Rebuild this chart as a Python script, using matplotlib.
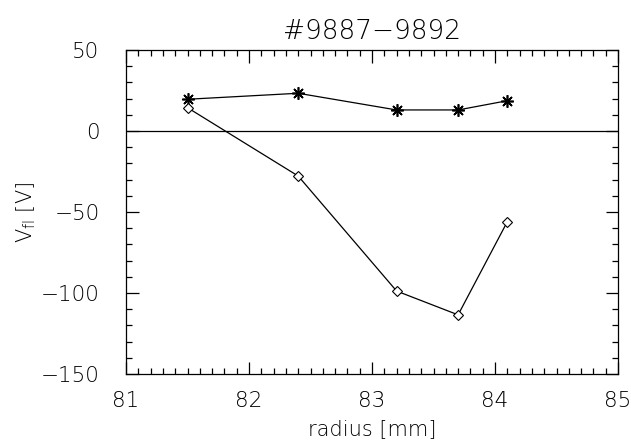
import matplotlib
matplotlib.use("Agg")
import matplotlib.pyplot as plt
from matplotlib.ticker import MultipleLocator

radius = [81.5, 82.4, 83.2, 83.7, 84.1]
vfl_star = [19.6, 23.3, 13.0, 13.0, 18.7]
vfl_diamond = [14.4, -27.8, -98.8, -113.5, -56.0]

plt.rcParams['font.family'] = ['DejaVu Sans']
plt.rcParams['font.weight'] = 'light'
plt.rcParams['axes.titleweight'] = 'light'
plt.rcParams['axes.labelweight'] = 'light'
plt.rcParams['mathtext.default'] = 'regular'
fig = plt.figure(figsize=(6.31, 4.45), dpi=100)
ax = fig.add_axes([0.1997, 0.1596, 0.7797, 0.728])

ax.plot(radius, vfl_star, color='black', lw=0.9, marker=(8, 2, 0), ms=9, mew=1.2)
ax.plot(radius, vfl_diamond, color='black', lw=0.9, marker='D', ms=5, mfc='white', mec='black', mew=0.8)
ax.axhline(0, color='black', lw=0.9)

ax.set_xlim(81, 85)
ax.set_ylim(-150, 50)
ax.xaxis.set_major_locator(MultipleLocator(1))
ax.xaxis.set_minor_locator(MultipleLocator(0.1))
ax.yaxis.set_major_locator(MultipleLocator(50))
ax.yaxis.set_minor_locator(MultipleLocator(10))
ax.tick_params(which='both', direction='in', top=True, right=True, labelsize=15.5, width=0.9)
ax.tick_params(which='major', length=9)
ax.tick_params(which='minor', length=4)
ax.tick_params(axis='y', which='major', pad=19)
ax.tick_params(axis='x', which='major', pad=12)
for s in ax.spines.values():
    s.set_linewidth(0.9)

ax.set_title('#9887\u22129892', fontsize=19, pad=8, fontweight='light')
ax.set_xlabel('radius [mm]', fontsize=15, labelpad=6, fontweight='light')
ax.set_ylabel('V$_{fl}$ [V]', fontsize=15, fontweight='light', va='center')
ax.yaxis.set_label_coords(-0.203, 0.5)

fig.savefig('out.png', dpi=100)
